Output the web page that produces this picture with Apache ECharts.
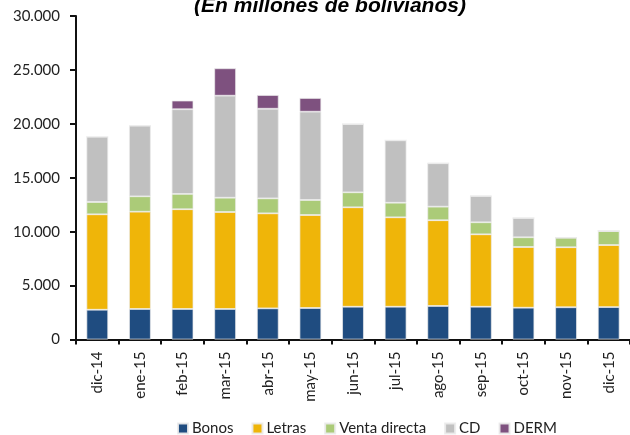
<!DOCTYPE html>
<html>
<head>
<meta charset="utf-8">
<script src="https://cdn.jsdelivr.net/npm/echarts@6/dist/echarts.min.js"></script>
<style>
html,body{margin:0;padding:0;background:#fff;}
#chart{width:630px;height:435px;}
</style>
</head>
<body>
<div id="chart"></div>
<script>
const categories = ['dic-14','ene-15','feb-15','mar-15','abr-15','may-15','jun-15','jul-15','ago-15','sep-15','oct-15','nov-15','dic-15'];
const bonos = [2760, 2830, 2830, 2830, 2890, 2920, 3040, 3040, 3110, 3040, 2950, 2990, 3010];
const letras = [8850, 9020, 9250, 8995, 8810, 8625, 9220, 8290, 7950, 6715, 5630, 5565, 5750];
const ventaDirecta = [1140, 1430, 1420, 1325, 1390, 1390, 1390, 1355, 1260, 1115, 900, 890, 1300];
const cd = [6055, 6550, 7855, 9460, 8310, 8190, 6335, 5785, 4025, 2440, 1790, 0, 0];
const derm = [0, 0, 800, 2540, 1270, 1270, 0, 0, 0, 0, 0, 0, 0];
const yTicks = [0, 5000, 10000, 15000, 20000, 25000, 30000];

const labelFont = 'Lato';
function fmt(v){ return String(v).replace(/\B(?=(\d{3})+(?!\d))/g, '.'); }

function mk(name, data, color){
  return {
    name: name, type: 'bar', stack: 'total', data: data,
    barCategoryGap: '49%',
    itemStyle: { color: color, borderColor: 'rgba(235,235,235,0.9)', borderWidth: 0.8 },
    emphasis: { disabled: true }
  };
}

const chart = echarts.init(document.getElementById('chart'), null, { renderer: 'canvas' });
chart.setOption({
  animation: false,
  backgroundColor: '#ffffff',
  title: {
    text: '(En millones de bolivianos)',
    left: 325, top: -9, textAlign: 'center',
    textStyle: { fontFamily: 'Liberation Sans', fontWeight: 'bold', fontStyle: 'italic', fontSize: 21, color: '#000' }
  },
  grid: { left: 76, right: -8, top: 16, bottom: 95.5, containLabel: false },
  legend: {
    left: 172, top: 416, itemWidth: 10, itemHeight: 10, itemGap: 18,
    icon: 'rect',
    textStyle: { fontFamily: labelFont, fontSize: 15, color: '#222', padding: [0,0,0,-1] },
    data: ['Bonos', 'Letras', 'Venta directa', 'CD', 'DERM']
  },
  xAxis: {
    type: 'category', data: categories, boundaryGap: true,
    axisLine: { show: true, lineStyle: { color: '#111', width: 2 } },
    axisTick: { show: true, length: 5, lineStyle: { color: '#111', width: 2 } },
    axisLabel: { rotate: 90, margin: 12, fontFamily: labelFont, fontSize: 15, color: '#222', interval: 0 }
  },
  yAxis: {
    type: 'value', min: yTicks[0], max: yTicks[yTicks.length-1], interval: yTicks[1]-yTicks[0],
    axisLine: { show: true, lineStyle: { color: '#111', width: 2 } },
    axisTick: { show: true, length: 6, lineStyle: { color: '#111', width: 2 } },
    splitLine: { show: false },
    axisLabel: { margin: 16, fontFamily: labelFont, fontSize: 15, color: '#222', formatter: fmt }
  },
  series: [
    mk('Bonos', bonos, '#1F4C80'),
    mk('Letras', letras, '#EFB509'),
    mk('Venta directa', ventaDirecta, '#ABCB78'),
    mk('CD', cd, '#C0C0C0'),
    mk('DERM', derm, '#7E517F')
  ]
});
</script>
</body>
</html>
